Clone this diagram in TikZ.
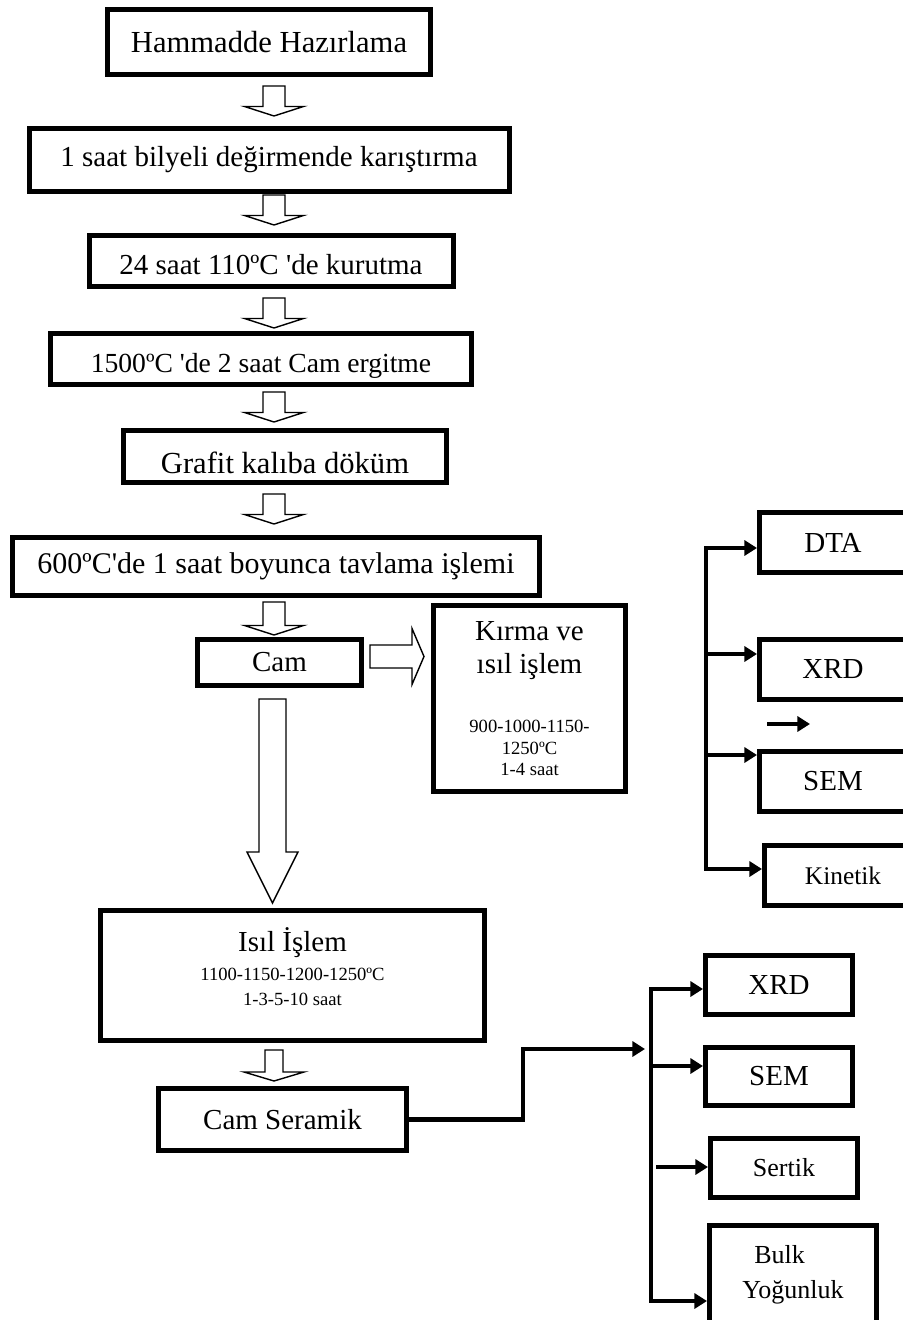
\documentclass[tikz,border=0pt]{standalone}
\usepackage{fontspec}
\setmainfont{Liberation Serif}
\usetikzlibrary{arrows.meta, calc}
\tikzstyle{block} = [rectangle, draw, line width=2.5pt, inner sep=0pt,
text centered, font=\fontsize{14.5pt}{16.5pt}\selectfont]
\tikzstyle{line} = [draw, line width=2.2pt, -{Triangle[length=6.3pt,width=7.5pt]}]
\tikzstyle{hollow} = [draw, line width=0.7pt, fill=white]
% upper node, lower node, top gap, tip gap, x, half shaft, half head, head length
\newcommand{\flowarrow}[8]{%
  \draw[hollow] let \p1=(#1.south), \p2=(#2.north) in
    (#5-#6,\y1-#3) -- (#5-#6,\y2+#4+#8) -- (#5-#7,\y2+#4+#8) -- (#5,\y2+#4)
    -- (#5+#7,\y2+#4+#8) -- (#5+#6,\y2+#4+#8) -- (#5+#6,\y1-#3) -- cycle;}

\begin{document}
\begin{tikzpicture}[x=0.5pt, y=-0.5pt]
    \useasboundingbox (0,0) rectangle (903,1320);
    \node [block, minimum width=161.5pt, minimum height=32.5pt, font=\fontsize{15.3pt}{17pt}\selectfont] (hammadde) at (269,42) {Hammadde Hazırlama};
    \node [block, below of=hammadde, node distance=59pt, minimum width=240pt, minimum height=31.5pt] (bilyeli) {1 saat bilyeli değirmende karıştırma};
    \node [block, below of=bilyeli, node distance=50.5pt, xshift=1pt, minimum width=182pt, minimum height=25.5pt, text height=14pt, text depth=0pt] (kurutma) {24 saat 110ºC \textquotesingle de kurutma};
    \node [block, below of=kurutma, node distance=49pt, xshift=-5pt, minimum width=210.5pt, minimum height=25.5pt, text height=14pt, text depth=0pt, font=\fontsize{13.8pt}{16pt}\selectfont] (ergitme) {1500ºC \textquotesingle de 2 saat Cam ergitme};
    \node [block, below of=ergitme, node distance=48.75pt, xshift=12pt, minimum width=161.5pt, minimum height=26pt, text height=16.5pt, text depth=0pt, font=\fontsize{15.3pt}{17pt}\selectfont] (grafit) {Grafit kalıba döküm};
    \node [block, below of=grafit, node distance=55pt, xshift=-4.5pt, minimum width=263.5pt, minimum height=29pt, font=\fontsize{15pt}{17pt}\selectfont] (tavlama) {600ºC\textquotesingle de 1 saat boyunca tavlama işlemi};
    \node [block, below of=tavlama, node distance=48pt, xshift=1.75pt, minimum width=82pt, minimum height=23pt] (cam) {Cam};
    \node [block, right of=cam, node distance=125pt, yshift=-18pt, minimum width=96pt, minimum height=93pt, text width=90pt, align=flush center] (kirma) {Kırma ve\\ısıl işlem\\[19pt]{\fontsize{9.3pt}{10.75pt}\selectfont 900-1000-1150-\\1250ºC\\1-4 saat\par}};
    \node [block, below of=cam, node distance=156.5pt, xshift=6.5pt, minimum width=192pt, minimum height=65pt, text width=185pt, align=flush center] (isil) {Isıl İşlem\\[2pt]{\fontsize{9.3pt}{12.5pt}\selectfont 1100-1150-1200-1250ºC\\1-3-5-10 saat\par}\vskip 9pt\hrule height 0pt};
    \node [block, below of=isil, node distance=72pt, xshift=-5pt, minimum width=124pt, minimum height=31pt] (camseramik) {Cam Seramik};

    \node [block, minimum width=73.5pt, minimum height=30pt] (dta) at (833,542.5) {DTA};
    \node [block, minimum width=73.5pt, minimum height=30pt] (xrd1) at (833,669.5) {XRD};
    \node [block, minimum width=73.5pt, minimum height=30pt] (sem1) at (833,781.5) {SEM};
    \node [block, minimum width=78.5pt, minimum height=30pt, font=\fontsize{12.7pt}{15pt}\selectfont] (kinetik) at (843,875.5) {Kinetik};
    \node [block, minimum width=73.5pt, minimum height=29.5pt] (xrd2) at (779,985) {XRD};
    \node [block, minimum width=73.5pt, minimum height=29pt] (sem2) at (779,1076.5) {SEM};
    \node [block, minimum width=73.5pt, minimum height=29.5pt, font=\fontsize{13pt}{15pt}\selectfont] (sertik) at (784,1168) {Sertik};
    \node [block, minimum width=83.5pt, minimum height=49pt, align=left, font=\fontsize{13pt}{17.5pt}\selectfont] (bulk) at (793,1274.5) {\hspace*{6pt}Bulk\\Yoğunluk};

    \flowarrow{hammadde}{bilyeli}{4.5pt}{5pt}{137pt}{5.5pt}{14.75pt}{4.75pt}
    \flowarrow{bilyeli}{kurutma}{0.5pt}{4pt}{137pt}{5.5pt}{14.75pt}{4.75pt}
    \flowarrow{kurutma}{ergitme}{4.5pt}{1.5pt}{137pt}{5.5pt}{14.75pt}{4.75pt}
    \flowarrow{ergitme}{grafit}{2.5pt}{3pt}{137pt}{5.5pt}{14.75pt}{4.75pt}
    \flowarrow{grafit}{tavlama}{4.5pt}{5.5pt}{137pt}{5.5pt}{14.75pt}{4.75pt}
    \flowarrow{tavlama}{cam}{2pt}{1pt}{137pt}{5.5pt}{14.75pt}{4.75pt}
    \flowarrow{cam}{isil}{5.5pt}{2.5pt}{136.25pt}{6.75pt}{12.75pt}{25.5pt}
    \flowarrow{isil}{camseramik}{3.5pt}{2.5pt}{137pt}{4.5pt}{15pt}{4.5pt}
    \draw[hollow] let \p1=(cam.east), \p2=(kirma.west) in
      (\x1+3pt,\y1+8.75pt) -- (\x2-9.5pt,\y1+8.75pt) -- (\x2-9.5pt,\y1+17pt) -- (\x2-3.5pt,\y1+3pt)
      -- (\x2-9.5pt,\y1-11pt) -- (\x2-9.5pt,\y1-2.75pt) -- (\x1+3pt,\y1-2.75pt) -- cycle;

    \coordinate (t1) at (706,548);
    \coordinate (t2) at (706,654);
    \coordinate (t3) at (706,755);
    \coordinate (t4) at (706,869);
    \coordinate (stray) at (767,724);
    \path [line] (t4) -- (t1) -- (t1 -| dta.west);
    \path [line] (t1) -- (t4) -- (t4 -| kinetik.west);
    \path [line] (t2) -- (t2 -| xrd1.west);
    \path [line] (t3) -- (t3 -| sem1.west);
    \path [line] (stray) -- ++(43,0);

    \coordinate (u1) at (651,989);
    \coordinate (u2) at (651,1066);
    \coordinate (u3) at (656,1167);
    \coordinate (u4) at (651,1301);
    \coordinate (j1) at (523,1049);
    \coordinate (j2) at (645,1049);
    \path [line] (camseramik.east) -| (j1) -- (j2);
    \path [line] (u4) -- (u1) -- (u1 -| xrd2.west);
    \path [line] (u1) -- (u4) -- (u4 -| bulk.west);
    \path [line] (u2) -- (u2 -| sem2.west);
    \path [line] (u3) -- (u3 -| sertik.west);
\end{tikzpicture}
\end{document}
